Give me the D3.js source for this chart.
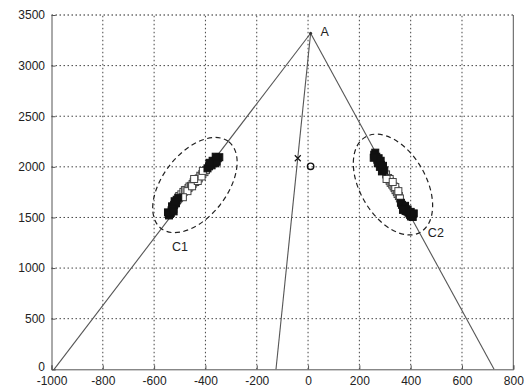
<!DOCTYPE html>
<html>
<head>
<meta charset="utf-8">
<script src="https://cdn.jsdelivr.net/npm/d3@7"></script>
<style>
  body { margin: 0; background: #fff; }
  text { font-family: "Liberation Sans", Arial, sans-serif; fill: #222; }
</style>
</head>
<body>
<div id="chart"></div>
<script>
// Data
var x_ticks  = [-1000, -800, -600, -400, -200, 0, 200, 400, 600, 800];
var y_ticks  = [0, 500, 1000, 1500, 2000, 2500, 3000, 3500];

// Apex A and the three rays down to the x axis
var apex     = [10, 3320];
var ray_ends = [-990, -125, 725];

// Cluster C1 (filled ends, open middle)
var c1_filled_x = [-542, -538, -535, -532, -528, -525, -522, -518, -515, -512, -506, -530, -520, -546, -524,
                   -392, -386, -380, -376, -370, -364, -362, -358, -352, -346, -372, -356, -384, -360];
var c1_filled_y = [1520, 1535, 1545, 1570, 1600, 1585, 1625, 1650, 1640, 1675, 1695, 1610, 1660, 1550, 1560,
                   1985, 2005, 2030, 2015, 2040, 2055, 2035, 2070, 2085, 2095, 2060, 2050, 2040, 2100];
var c1_open_x   = [-502, -494, -486, -480, -474, -466, -462, -456, -450, -446, -440,
                   -434, -426, -420, -412, -404, -398, -470, -452, -430, -415, -488, -444, -410];
var c1_open_y   = [1712, 1728, 1752, 1770, 1772, 1790, 1806, 1812, 1830, 1848, 1850,
                   1872, 1886, 1912, 1928, 1948, 1968, 1760, 1808, 1860, 1905, 1700, 1880, 1960];

// Cluster C2
var c2_filled_x = [262, 258, 266, 270, 275, 279, 284, 280, 290, 288, 297, 272, 283, 256, 292,
                   362, 366, 372, 378, 380, 385, 388, 391, 395, 398, 401, 405, 408, 380, 400, 412, 370];
var c2_filled_y = [2140, 2120, 2100, 2070, 2085, 2050, 2020, 2000, 1990, 1955, 1965, 2035, 2060, 2090, 2010,
                   1645, 1625, 1600, 1615, 1585, 1560, 1578, 1550, 1540, 1525, 1510, 1528, 1505, 1565, 1555, 1540, 1575];
var c2_open_x   = [304, 312, 318, 322, 328, 333, 337, 341, 346, 349, 354, 358, 318, 340, 306, 330, 352];
var c2_open_y   = [1925, 1890, 1862, 1842, 1825, 1808, 1792, 1770, 1752, 1732, 1712, 1688, 1880, 1800, 1880, 1850, 1760];

// Other markers
var cross_pt  = [-40, 2085];
var circle_pt = [10, 2005];

var chart_width  = 527;
var chart_height = 387;

var x = d3.scaleLinear().domain([-1000, 800]).range([51.5, 513.3]);
var y = d3.scaleLinear().domain([0, 3500]).range([369.3, 15]);

var svg = d3.select('#chart')
            .append('svg')
            .attr('width', chart_width)
            .attr('height', chart_height);

// Dotted grid
svg.append('g')
   .selectAll('line')
   .data(x_ticks.slice(1, -1))
   .enter()
   .append('line')
   .attr('x1', function(d){ return x(d); })
   .attr('x2', function(d){ return x(d); })
   .attr('y1', y(0))
   .attr('y2', y(3500))
   .attr('stroke', '#444')
   .attr('stroke-dasharray', '1.5,2.5');

svg.append('g')
   .selectAll('line')
   .data(y_ticks.slice(1))
   .enter()
   .append('line')
   .attr('x1', x(-1000))
   .attr('x2', x(800))
   .attr('y1', function(d){ return y(d); })
   .attr('y2', function(d){ return y(d); })
   .attr('stroke', function(d){ return d === 3500 ? '#222' : '#444'; })
   .attr('stroke-dasharray', '1.5,2.5');

// Axes
var fmt = function(d){ return String(d); };
var x_axis = d3.axisBottom(x).tickValues(x_ticks).tickFormat(fmt).tickSize(-4).tickPadding(7);
var y_axis = d3.axisLeft(y).tickValues(y_ticks).tickFormat(fmt).tickSize(-4).tickPadding(6.5);

svg.append('g')
   .attr('transform', 'translate(0,' + y(0) + ')')
   .call(x_axis);
var gy = svg.append('g')
   .attr('transform', 'translate(' + x(-1000) + ',0)')
   .call(y_axis);

svg.selectAll('.domain').attr('stroke', '#555');
svg.selectAll('.tick line').attr('stroke', '#555');
svg.selectAll('.tick text')
   .style('font-size', '12px')
   .attr('fill', '#222');

// lift the "0" label a little so it clears "-1000"
gy.selectAll('.tick text')
  .filter(function(d){ return d === 0; })
  .attr('y', -2.5);

// Right border
svg.append('line')
   .attr('x1', x(800)).attr('x2', x(800))
   .attr('y1', y(0)).attr('y2', y(3500))
   .attr('stroke', '#555');

// Rays from A
svg.append('g')
   .selectAll('line')
   .data(ray_ends)
   .enter()
   .append('line')
   .attr('x1', x(apex[0]))
   .attr('y1', y(apex[1]))
   .attr('x2', function(d){ return x(d); })
   .attr('y2', y(0))
   .attr('stroke', '#555')
   .attr('stroke-width', 1.1);

svg.append('circle')
   .attr('cx', x(apex[0]))
   .attr('cy', y(apex[1]))
   .attr('r', 1.5)
   .attr('fill', '#333');

svg.append('text')
   .attr('x', x(apex[0]) + 10)
   .attr('y', y(apex[1]) + 3)
   .style('font-size', '12.5px')
   .text('A');

// Square markers
function squares(xs, ys, fill, stroke) {
  svg.append('g')
     .selectAll('rect')
     .data(xs.map(function(d, i){ return [d, ys[i]]; }))
     .enter()
     .append('rect')
     .attr('x', function(d){ return x(d[0]) - 3.5; })
     .attr('y', function(d){ return y(d[1]) - 3.5; })
     .attr('width', 7)
     .attr('height', 7)
     .attr('fill', fill)
     .attr('stroke', stroke)
     .attr('stroke-width', 1);
}
squares(c1_open_x, c1_open_y, '#fff', '#444');
squares(c1_filled_x, c1_filled_y, '#111', '#111');
squares(c2_open_x, c2_open_y, '#fff', '#444');
squares(c2_filled_x, c2_filled_y, '#111', '#111');

// Dashed ellipses round the clusters
var ellipses = [
  { c: [-441, 1820], rx: 55, ry: 32, rot: -52 },
  { c: [331, 1825],  rx: 55, ry: 33, rot: 60 }
];
svg.append('g')
   .selectAll('ellipse')
   .data(ellipses)
   .enter()
   .append('ellipse')
   .attr('transform', function(d){
     return 'translate(' + x(d.c[0]) + ',' + y(d.c[1]) + ') rotate(' + d.rot + ')';
   })
   .attr('rx', function(d){ return d.rx; })
   .attr('ry', function(d){ return d.ry; })
   .attr('fill', 'none')
   .attr('stroke', '#222')
   .attr('stroke-width', 1.2)
   .attr('stroke-dasharray', '5,3.5');

svg.append('text')
   .attr('x', x(-499))
   .attr('y', y(1169))
   .attr('text-anchor', 'middle')
   .style('font-size', '12.5px')
   .text('C1');

svg.append('text')
   .attr('x', x(467))
   .attr('y', y(1307))
   .style('font-size', '12.5px')
   .text('C2');

// x and o markers
var cx = x(cross_pt[0]), cy = y(cross_pt[1]);
svg.append('path')
   .attr('d', 'M' + (cx - 3) + ',' + (cy - 3) + 'L' + (cx + 3) + ',' + (cy + 3) +
              'M' + (cx - 3) + ',' + (cy + 3) + 'L' + (cx + 3) + ',' + (cy - 3))
   .attr('stroke', '#111')
   .attr('stroke-width', 1.2);

svg.append('circle')
   .attr('cx', x(circle_pt[0]))
   .attr('cy', y(circle_pt[1]))
   .attr('r', 3.2)
   .attr('fill', 'none')
   .attr('stroke', '#111')
   .attr('stroke-width', 1.4);
</script>
</body>
</html>
